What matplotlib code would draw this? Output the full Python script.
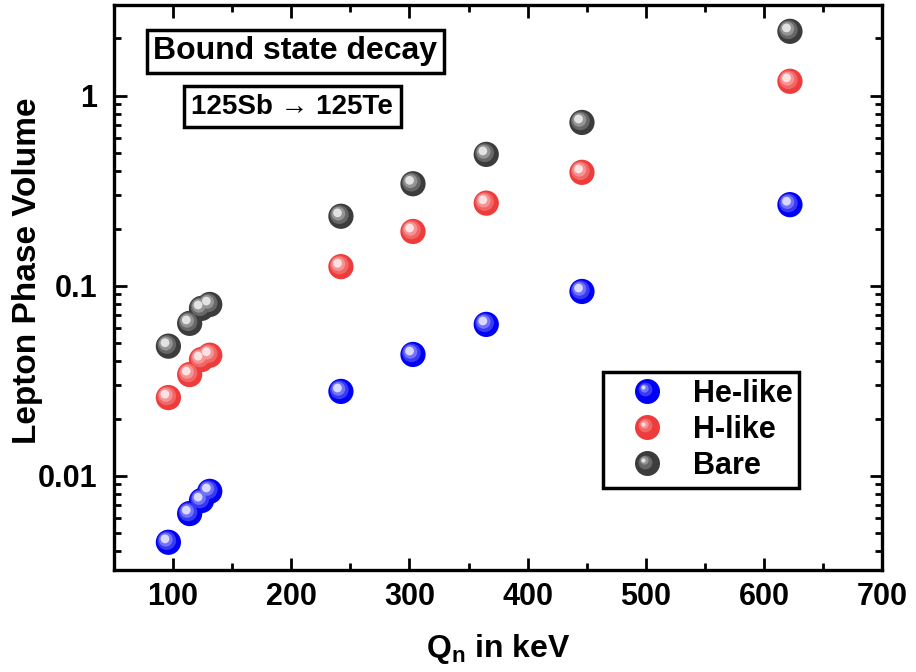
import matplotlib
matplotlib.use("Agg")
import matplotlib.pyplot as plt
import matplotlib.transforms as mtransforms
from matplotlib.lines import Line2D
from matplotlib.legend_handler import HandlerBase
import numpy as np

# ---- data ----
q_values = [96, 114, 124, 131, 242, 303, 365, 446, 622]
he_like = [0.00447, 0.00633, 0.00741, 0.00828, 0.0278, 0.0435, 0.0626, 0.0933, 0.267]
h_like = [0.0258, 0.0341, 0.0409, 0.0431, 0.126, 0.193, 0.272, 0.395, 1.19]
bare = [0.0481, 0.0634, 0.076, 0.0797, 0.232, 0.344, 0.491, 0.723, 2.18]
series_names = ["He-like", "H-like", "Bare"]
series_colors = ["#0000F5", "#EE3B3B", "#3C3C3C"]
x_ticks = [100, 200, 300, 400, 500, 600, 700]
y_ticks = [0.01, 0.1, 1]
y_tick_labels = ["0.01", "0.1", "1"]

plt.rcParams['font.family'] = ['Liberation Sans', 'DejaVu Sans']
plt.rcParams['font.weight'] = 'bold'
plt.rcParams['mathtext.fontset'] = 'custom'
plt.rcParams['mathtext.rm'] = 'Liberation Sans:bold'
plt.rcParams['mathtext.it'] = 'Liberation Sans:bold'
plt.rcParams['mathtext.bf'] = 'Liberation Sans:bold'

fig = plt.figure(figsize=(9.16, 6.72), dpi=100)
ax = fig.add_axes([0.1245, 0.152, 0.8385, 0.8406])

def mix(c, f):
    rgb = np.array(matplotlib.colors.to_rgb(c))
    return tuple(rgb + (1 - rgb) * f)

base_s = 330
layers = [(1.0, 0.0, 0.0), (0.55, 0.22, 1.6), (0.30, 0.45, 2.6), (0.12, 0.85, 3.4)]
for vals, color in zip([he_like, h_like, bare], series_colors):
    for frac, f, off in layers:
        tr = mtransforms.offset_copy(ax.transData, fig=fig, x=-off, y=off, units='dots')
        ax.scatter(q_values, vals, s=base_s * frac, color=mix(color, f),
                   edgecolors='none', transform=tr, zorder=3)

ax.set_yscale('log')
ax.set_xlim(50, 700)
ax.set_ylim(0.0032, 3.0)
ax.set_xticks(x_ticks)
ax.set_xticks([150, 250, 350, 450, 550, 650], minor=True)
ax.set_yticks(y_ticks)
ax.set_yticklabels(y_tick_labels)
ax.yaxis.set_minor_locator(matplotlib.ticker.LogLocator(base=10, subs=np.arange(2, 10)))
ax.yaxis.set_minor_formatter(matplotlib.ticker.NullFormatter())

for sp in ax.spines.values():
    sp.set_linewidth(2.4)
ax.tick_params(which='both', direction='in', top=True, right=True, width=2.0)
ax.tick_params(which='major', length=9, labelsize=22)
ax.tick_params(axis='x', which='major', pad=9)
ax.tick_params(axis='y', which='major', pad=12)
ax.tick_params(which='minor', length=5)

ax.set_xlabel(r'$\mathrm{Q_n}$ in keV', fontsize=23, fontweight='bold', labelpad=14)
ax.set_ylabel('Lepton Phase Volume', fontsize=24, fontweight='bold')
ax.yaxis.set_label_coords(-0.093, 0.53)

box1 = dict(boxstyle='square,pad=0.2', fc='white', ec='black', lw=2.5)
box2 = dict(boxstyle='square,pad=0.28', fc='white', ec='black', lw=2.5)
ax.text(0.236, 0.918, 'Bound state decay', transform=ax.transAxes, ha='center', va='center',
        fontsize=23, fontweight='bold', bbox=box1)
ax.text(0.232, 0.820, '125Sb \u2192 125Te', transform=ax.transAxes, ha='center', va='center',
        fontsize=20, fontweight='bold', bbox=box2, family=['Liberation Sans', 'DejaVu Sans'])


class SphereHandler(HandlerBase):
    def create_artists(self, legend, orig_handle, xdescent, ydescent, width, height,
                       fontsize, trans):
        color = orig_handle.get_color()
        cx = width / 2 - xdescent
        cy = height / 2 - ydescent
        arts = []
        for ms, f, off in [(18, 0.0, 0.0), (10, 0.22, 1.3), (6, 0.45, 2.1), (3, 0.85, 2.7)]:
            ln = Line2D([cx - off], [cy + off], ls='none', marker='o', markersize=ms,
                        color=mix(color, f), mec='none')
            ln.set_transform(trans)
            arts.append(ln)
        return arts


handles = [Line2D([], [], ls='none', marker='o', color=c) for c in series_colors]
leg = ax.legend(handles, series_names, handler_map={Line2D: SphereHandler()},
                loc='upper left', bbox_to_anchor=(0.637, 0.350), borderaxespad=0, fontsize=22,
                frameon=True, fancybox=False, edgecolor='black', framealpha=1,
                handletextpad=0.3, labelspacing=0.2, borderpad=0.22, handlelength=2.4)
leg.get_frame().set_linewidth(2.5)

fig.savefig('out.png', dpi=100)
